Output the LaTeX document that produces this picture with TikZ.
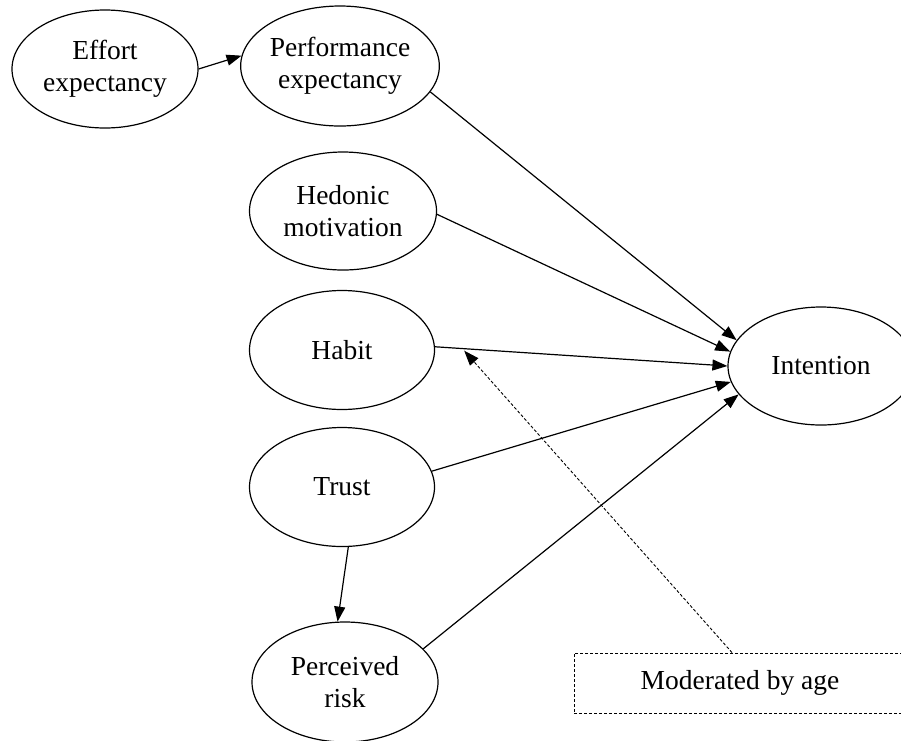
\documentclass[tikz,border=0pt]{standalone}
\usepackage{fontspec}
\setmainfont{Liberation Serif}
\usetikzlibrary{shapes.geometric,arrows.meta,calc}
\begin{document}
\begin{tikzpicture}[x=1pt,y=-1pt,
  every node/.style={font=\fontsize{27.5}{32}\selectfont},
  construct/.style={ellipse,draw,line width=1.2pt,inner sep=0pt,align=center,minimum width=187pt,minimum height=118pt},
  link/.style={line width=1.2pt,-{Triangle[length=15pt,width=11pt]}},
  modlink/.style={line width=0.9pt,dash pattern=on 3pt off 2pt,-{Triangle[length=15pt,width=11pt]}},
  modbox/.style={draw,line width=0.9pt,dash pattern=on 3pt off 2pt,minimum width=332pt,minimum height=60pt,inner sep=0pt}]
\useasboundingbox (0,0) rectangle (901,740);
\node[construct,minimum width=186pt] (eff) at (105,69) {Effort\\expectancy};
\node[construct,minimum width=188pt,minimum height=120pt] (perf) at (340,66) {Performance\\expectancy};
\node[construct] (hed) at (343,211) {Hedonic\\motivation};
\node[construct,minimum width=185pt,minimum height=119pt] (hab) at (342,350) {Habit};
\node[construct,minimum width=185pt,minimum height=119pt] (tru) at (342,487) {Trust};
\node[construct,minimum width=186pt,minimum height=120pt] (risk) at (345,682) {Perceived\\risk};
\node[construct,minimum width=186pt] (int) at (821,366) {Intention};
\node[modbox] (mod) at (740,683) {Moderated by age};
\coordinate (modtop) at ($(mod.north)+(-8,0)$);
\draw[link] (eff.0) -- (perf.174);
\draw[link] (perf.344) -- (int.163);
\draw[link] (hed.358) -- (int.171);
\draw[link] (hab.2) -- coordinate[pos=0.1] (hm) (int.180);
\draw[link] (tru.10) -- (int.190);
\draw[link] (risk.23) -- (int.199);
\draw[link] (tru.276) -- (risk.97);
\draw[modlink] (modtop) -- ($(hm)+(0,2)$);
\end{tikzpicture}
\end{document}
